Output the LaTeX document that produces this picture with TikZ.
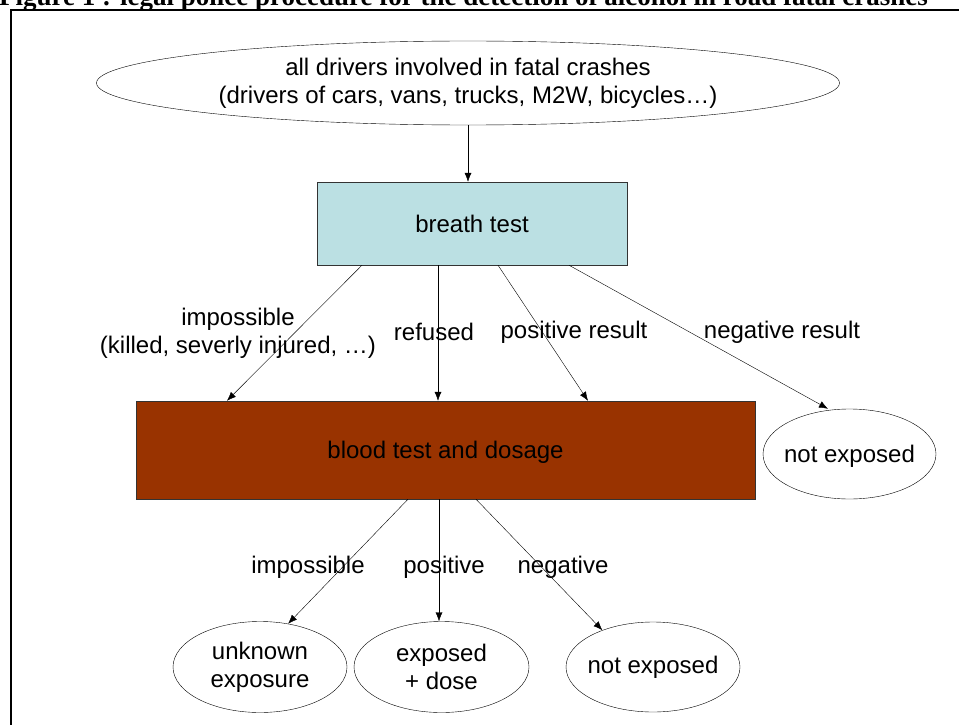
\documentclass[tikz,border=0pt]{standalone}
\usepackage{fontspec}
\setmainfont{Liberation Sans}
\newfontfamily\titlefont{Liberation Serif}
\usetikzlibrary{arrows.meta,shapes.geometric}

\begin{document}
\begin{tikzpicture}[x=1pt,y=-1pt,
    every node/.style={font=\fontsize{24}{28}\selectfont},
    ovalnode/.style={ellipse, draw=black, thin, inner sep=0pt, align=center},
    boxnode/.style={rectangle, draw=black!80, thin, inner sep=0pt},
    arr/.style={-{Latex[length=9pt,width=7pt]}, thin}
    ]
    \useasboundingbox (0,0) rectangle (959,725);
    \clip (0,0) rectangle (959,725);

    \node [anchor=base west,inner sep=0pt,font=\titlefont\bfseries\fontsize{27}{30}\selectfont] (title) at (-1,6)
      {Figure 1 : legal police procedure for the detection of alcohol in road fatal crashes};
    \draw [line width=2pt] (11,10) rectangle (1000,800);

    \node [ovalnode,minimum width=743pt,minimum height=84pt] (d0) at (468,83)
      {all drivers involved in fatal crashes\\(drivers of cars, vans, trucks, M2W, bicycles\dots)};

    \node [boxnode,fill={rgb,255:red,187;green,224;blue,227},minimum width=310pt,minimum height=83pt] (t1) at (472,223.5) {breath test};
    \draw [arr] (d0.south) -- (t1.north -| d0.south);

    \node [boxnode,fill={rgb,255:red,153;green,51;blue,0},minimum width=619pt,minimum height=98pt,text depth=-4pt] (t2) at (445.5,450) {blood test and dosage};
    \node [ovalnode,inner xsep=-10pt,minimum width=173pt,minimum height=90pt,text depth=-4pt] (n1) at (849.5,454) {not exposed};

    \node [align=center] (l1) at (238,333) {impossible\\(killed, severly injured, \dots)};
    \node (l2) at (434,332) {refused};
    \node (l3) at (574,332) {positive result};
    \node (l4) at (782,332) {negative result};

    \draw [arr] (t1.south -| 362,0) -- (t2.north -| 227,0);
    \draw [arr] (t1.south -| 438,0) -- (t2.north -| 438,0);
    \draw [arr] (t1.south -| 498,0) -- (t2.north -| 588,0);
    \draw [arr] (t1.south -| 569,0) -- (n1.north -| 828,0);

    \node [ovalnode,minimum width=174pt,minimum height=91pt] (r1) at (260,667) {unknown\\exposure};
    \node [ovalnode,minimum width=175pt,minimum height=91pt] (r2) at (441.5,667) {exposed\\+ dose};
    \node [ovalnode,inner xsep=-10pt,minimum width=174pt,minimum height=90pt] (r3) at (653,667) {not exposed};

    \node (m1) at (308,567) {impossible};
    \node (m2) at (444,567) {positive};
    \node (m3) at (563,567) {negative};

    \draw [arr] (t2.south -| 408,0) -- (r1.57);
    \draw [arr] (t2.south -| 439,0) -- (r2.north -| 439,0);
    \draw [arr] (t2.south -| 476,0) -- (r3.144);

    \end{tikzpicture}
\end{document}
